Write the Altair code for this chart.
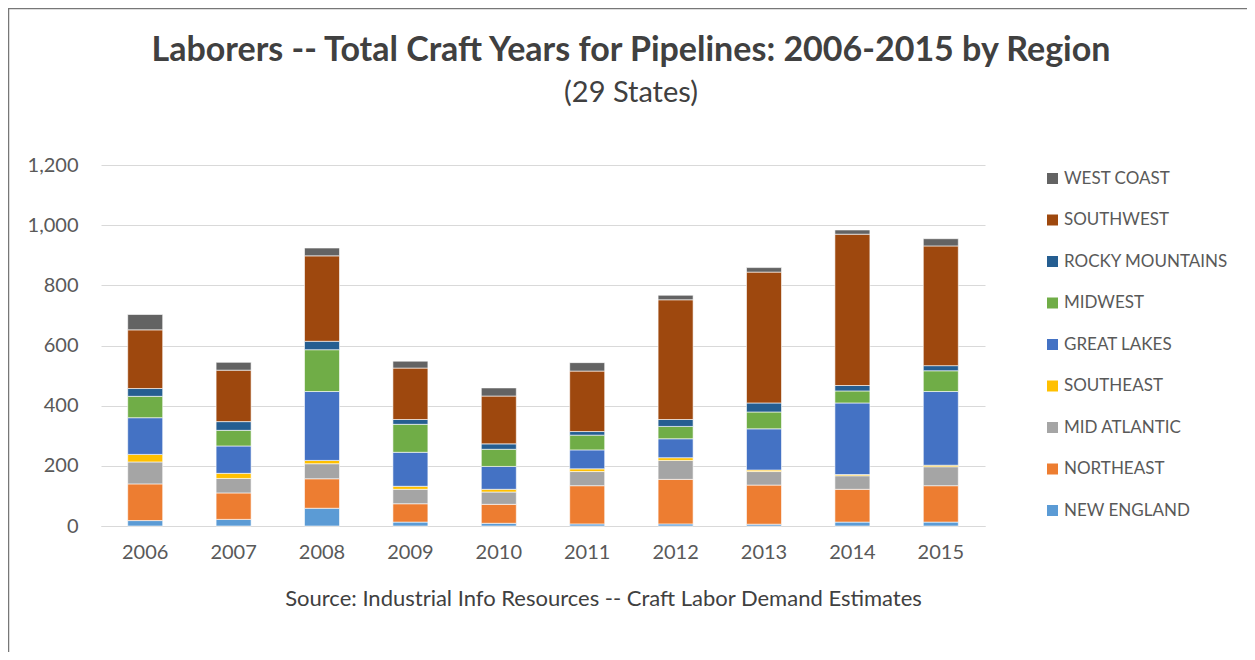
import altair as alt
import pandas as pd

years = ["2006", "2007", "2008", "2009", "2010", "2011", "2012", "2013", "2014", "2015"]

regions = ["NEW ENGLAND", "NORTHEAST", "MID ATLANTIC", "SOUTHEAST", "GREAT LAKES",
           "MIDWEST", "ROCKY MOUNTAINS", "SOUTHWEST", "WEST COAST"]
region_colors = ["#5B9BD5", "#ED7D31", "#A5A5A5", "#FFC000", "#4472C4",
                 "#70AD47", "#255E91", "#9E480E", "#636363"]

new_england = [18, 22, 59, 13, 9, 7, 7, 6, 13, 13]
northeast = [122, 88, 98, 61, 63, 127, 148, 130, 109, 121]
mid_atlantic = [73, 48, 50, 48, 41, 47, 63, 45, 45, 63]
southeast = [25, 17, 11, 10, 9, 9, 9, 5, 4, 5]
great_lakes = [122, 91, 229, 113, 76, 63, 63, 137, 238, 245]
midwest = [71, 52, 139, 93, 57, 49, 41, 56, 40, 69]
rocky_mountains = [26, 29, 28, 16, 18, 12, 23, 30, 18, 17]
southwest = [195, 171, 284, 171, 159, 201, 398, 435, 503, 398]
west_coast = [51, 26, 26, 23, 27, 28, 15, 15, 14, 24]

series = [new_england, northeast, mid_atlantic, southeast, great_lakes,
          midwest, rocky_mountains, southwest, west_coast]

title_text = "Laborers -- Total Craft Years for Pipelines: 2006-2015 by Region"
subtitle_text = "(29 States)"
source_text = "Source: Industrial Info Resources -- Craft Labor Demand Estimates"

rows = []
for i, (name, vals) in enumerate(zip(regions, series)):
    for y, v in zip(years, vals):
        rows.append({"Year": y, "Region": name, "Value": v, "order": i})
df = pd.DataFrame(rows)

W, H = 884, 361
PAD_L, PAD_T = 93, 157
PAD_R = 1239 - PAD_L - W
PAD_B = 644 - PAD_T - H

FONT = "Lato"

bars = alt.Chart(df).mark_bar(size=35, stroke="white", strokeWidth=0.6).encode(
    x=alt.X("Year:N", sort=years,
            scale=alt.Scale(paddingInner=0.6, paddingOuter=0.3),
            axis=alt.Axis(title=source_text,
                          labelAngle=0, ticks=False, domainColor="#D9D9D9", domainWidth=1,
                          labelFontSize=20, labelColor="#595959", labelFont=FONT, labelPadding=16,
                          titleFont=FONT, titleFontSize=22, titleFontWeight="normal",
                          titleColor="#404040", titleX=502, titleY=72,
                          titleBaseline="middle", titleAlign="center", titleAnchor="start")),
    y=alt.Y("Value:Q", stack="zero",
            scale=alt.Scale(domain=[0, 1200], nice=False),
            axis=alt.Axis(title=None, values=[0, 200, 400, 600, 800, 1000, 1200], format=",.0f",
                          domain=False, ticks=False, gridColor="#D9D9D9", gridWidth=1,
                          labelFontSize=20, labelColor="#595959", labelFont=FONT,
                          labelPadding=23)),
    color=alt.Color("Region:N",
                    scale=alt.Scale(domain=regions[::-1], range=region_colors[::-1]),
                    legend=alt.Legend(title=None, orient="none", legendX=943, legendY=5,
                                      symbolType="square", symbolSize=121, symbolStrokeWidth=0,
                                      labelFontSize=17, labelFont=FONT, labelColor="#595959",
                                      labelLimit=400, rowPadding=23.5, labelOffset=3)),
    order=alt.Order("order:Q", sort="ascending"),
)

one = pd.DataFrame({"a": [0]})

border = alt.Chart(one).mark_rect(
    fill=None, stroke="#777777", strokeWidth=1.5
).encode(
    x=alt.value(-PAD_L + 0.5), x2=alt.value(W + 400),
    y=alt.value(-PAD_T + 0.5), y2=alt.value(H + 300),
)

title = alt.Chart(one).mark_text(
    text=title_text, font=FONT, fontSize=34, fontWeight="bold", color="#404040",
    align="center", baseline="alphabetic"
).encode(x=alt.value(530), y=alt.value(-104))

subtitle = alt.Chart(one).mark_text(
    text=subtitle_text, font=FONT, fontSize=29, color="#404040",
    align="center", baseline="alphabetic"
).encode(x=alt.value(530), y=alt.value(-63))

chart = alt.layer(border, title, subtitle, bars).properties(
    width=W, height=H,
    padding={"left": PAD_L, "top": PAD_T, "right": PAD_R, "bottom": PAD_B},
    autosize=alt.AutoSizeParams(type="none"),
    background="white",
).configure_view(stroke=None)

chart.save("out.html", embed_options={"renderer": "svg", "actions": False})
